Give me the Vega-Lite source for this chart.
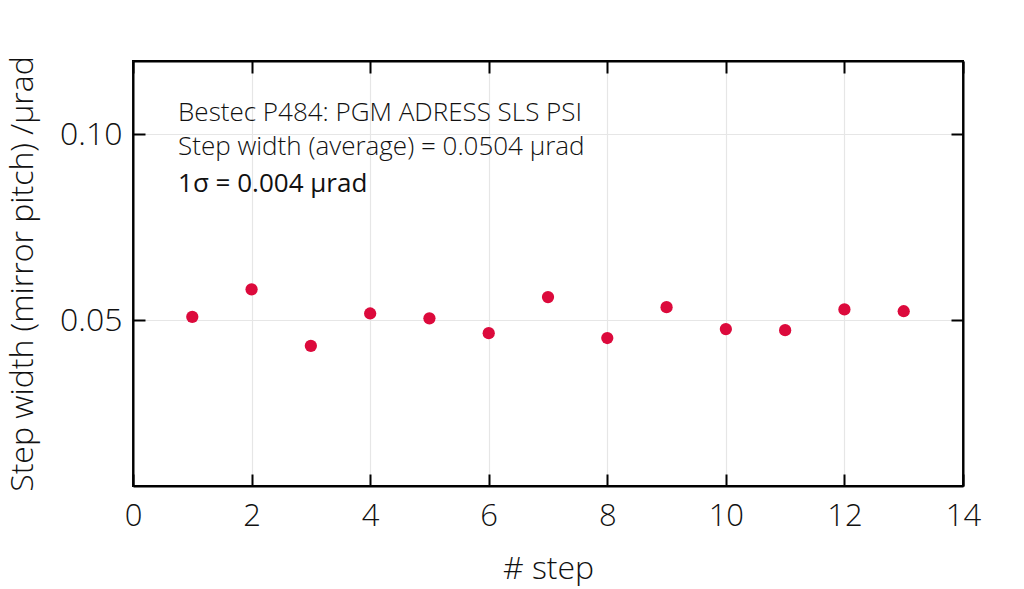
{
  "$schema": "https://vega.github.io/schema/vega-lite/v6.json",
  "width": 830,
  "height": 425,
  "autosize": {"type": "none"},
  "padding": {"left": 133, "top": 61, "right": 61, "bottom": 103},
  "config": {
    "view": {"stroke": "black", "strokeWidth": 2},
    "font": "Open Sans",
    "axis": {
      "labelFont": "Open Sans",
      "titleFont": "Open Sans",
      "labelFontWeight": 300,
      "titleFontWeight": 300,
      "labelColor": "#111",
      "titleColor": "#111",
      "domainColor": "black",
      "domainWidth": 2,
      "tickColor": "black",
      "tickWidth": 2,
      "gridColor": "#e6e6e6",
      "gridWidth": 1.2
    }
  },
  "datasets": {
    "pts": [
      {"step": 1, "width": 0.0509},
      {"step": 2, "width": 0.0583},
      {"step": 3, "width": 0.0431},
      {"step": 4, "width": 0.0518},
      {"step": 5, "width": 0.0505},
      {"step": 6, "width": 0.0465},
      {"step": 7, "width": 0.0562},
      {"step": 8, "width": 0.0452},
      {"step": 9, "width": 0.0535},
      {"step": 10, "width": 0.0476},
      {"step": 11, "width": 0.0473},
      {"step": 12, "width": 0.0529},
      {"step": 13, "width": 0.0524}
    ],
    "notes": [
      {"label": "Bestec P484: PGM ADRESS SLS PSI", "x": 0.76, "y": 0.1035, "bold": 0},
      {"label": "Step width (average) = 0.0504 µrad", "x": 0.76, "y": 0.0944, "bold": 0},
      {"label": "1σ = 0.004 µrad", "x": 0.76, "y": 0.0846, "bold": 1}
    ]
  },
  "layer": [
    {
      "data": {"name": "pts"},
      "mark": {"type": "point", "filled": true, "size": 150, "color": "#dc0a3c", "opacity": 1},
      "encoding": {
        "x": {
          "field": "step", "type": "quantitative",
          "scale": {"domain": [0, 14], "nice": false, "zero": false},
          "axis": {
            "title": "# step", "values": [0, 2, 4, 6, 8, 10, 12, 14],
            "tickSize": -12, "labelPadding": 27, "labelFontSize": 31,
            "titleFontSize": 32, "titlePadding": 22, "grid": true, "labelFlush": false
          }
        },
        "y": {
          "field": "width", "type": "quantitative",
          "scale": {"domain": [0.0054, 0.1197], "nice": false, "zero": false},
          "axis": {
            "title": "Step width (mirror pitch) /µrad", "values": [0.05, 0.1], "format": ".2f",
            "tickSize": -12, "labelPadding": 23, "labelFontSize": 32,
            "titleFontSize": 32, "titlePadding": 20, "grid": true
          }
        }
      }
    },
    {
      "data": {"name": "pts"},
      "mark": {"type": "point", "opacity": 0},
      "encoding": {
        "x": {
          "field": "step", "type": "quantitative",
          "axis": {"orient": "top", "values": [0, 2, 4, 6, 8, 10, 12, 14], "tickSize": -12, "labels": false, "title": null, "grid": false}
        },
        "y": {
          "field": "width", "type": "quantitative",
          "axis": {"orient": "right", "values": [0.05, 0.1], "tickSize": -12, "labels": false, "title": null, "grid": false}
        }
      }
    },
    {
      "data": {"name": "notes"},
      "transform": [{"filter": "datum.bold == 0"}],
      "mark": {"type": "text", "align": "left", "baseline": "alphabetic", "fontSize": 26, "font": "Open Sans", "fontWeight": 300, "color": "#111"},
      "encoding": {
        "x": {"field": "x", "type": "quantitative", "axis": null},
        "y": {"field": "y", "type": "quantitative", "axis": null},
        "text": {"field": "label"}
      }
    },
    {
      "data": {"name": "notes"},
      "transform": [{"filter": "datum.bold == 1"}],
      "mark": {"type": "text", "align": "left", "baseline": "alphabetic", "fontSize": 26, "font": "Open Sans", "fontWeight": 500, "color": "#111"},
      "encoding": {
        "x": {"field": "x", "type": "quantitative", "axis": null},
        "y": {"field": "y", "type": "quantitative", "axis": null},
        "text": {"field": "label"}
      }
    }
  ],
  "resolve": {"axis": {"x": "independent", "y": "independent"}}
}
